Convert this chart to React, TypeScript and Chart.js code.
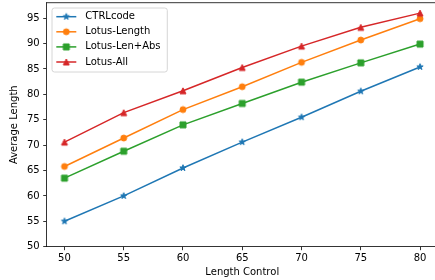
import React, { useEffect, useRef } from "react";
import { Chart, registerables } from "chart.js";

Chart.register(...registerables);

const X_VALUES = [50, 55, 60, 65, 70, 75, 80];
const SERIES_LABELS = ["CTRLcode", "Lotus-Length", "Lotus-Len+Abs", "Lotus-All"];
const CTRLCODE = [55.0, 60.0, 65.5, 70.6, 75.5, 80.6, 85.4];
const LOTUS_LENGTH = [65.8, 71.4, 77.0, 81.5, 86.3, 90.7, 94.9];
const LOTUS_LEN_ABS = [63.5, 68.8, 74.0, 78.2, 82.4, 86.2, 89.9];
const LOTUS_ALL = [70.6, 76.4, 80.7, 85.3, 89.5, 93.2, 96.0];
const X_TICKS = [50, 55, 60, 65, 70, 75, 80];
const Y_TICKS = [50, 55, 60, 65, 70, 75, 80, 85, 90, 95];
const X_TITLE = "Length Control";
const Y_TITLE = "Average Length";
const COLORS = ["#1f77b4", "#ff7f0e", "#2ca02c", "#d62728"];
const MARKERS = ["star", "circle", "square", "triangle"];

const FONT = "'DejaVu Sans', sans-serif";

function makeMarker(shape: string, color: string): HTMLCanvasElement {
  const s = 12;
  const c = document.createElement("canvas");
  c.width = s;
  c.height = s;
  const ctx = c.getContext("2d")!;
  const cx = s / 2;
  const cy = s / 2;
  const r = 3;
  ctx.beginPath();
  if (shape === "circle") {
    ctx.arc(cx, cy, r, 0, Math.PI * 2);
  } else if (shape === "square") {
    ctx.rect(cx - r, cy - r, 2 * r, 2 * r);
  } else if (shape === "triangle") {
    ctx.moveTo(cx, cy - r);
    ctx.lineTo(cx - r, cy + r);
    ctx.lineTo(cx + r, cy + r);
    ctx.closePath();
  } else {
    const outer = 3.3;
    const inner = outer * 0.381966;
    for (let i = 0; i < 10; i++) {
      const a = -Math.PI / 2 + (i * Math.PI) / 5;
      const rr = i % 2 === 0 ? outer : inner;
      const px = cx + Math.cos(a) * rr;
      const py = cy + Math.sin(a) * rr;
      if (i === 0) ctx.moveTo(px, py);
      else ctx.lineTo(px, py);
    }
    ctx.closePath();
  }
  ctx.fillStyle = color;
  ctx.fill();
  ctx.lineWidth = 1;
  ctx.lineJoin = "miter";
  ctx.strokeStyle = color;
  ctx.stroke();
  return c;
}

export default function App() {
  const canvasRef = useRef<HTMLCanvasElement | null>(null);

  useEffect(() => {
    document.body.style.margin = "0";
    const canvas = canvasRef.current;
    if (!canvas) return;

    const seriesValues = [CTRLCODE, LOTUS_LENGTH, LOTUS_LEN_ABS, LOTUS_ALL];
    const markerImgs = MARKERS.map((m, i) => makeMarker(m, COLORS[i]));

    const datasets = SERIES_LABELS.map((label, i) => ({
      label,
      data: X_VALUES.map((x, j) => ({ x, y: seriesValues[i][j] })),
      borderColor: COLORS[i],
      backgroundColor: COLORS[i],
      borderWidth: 1.5,
      tension: 0,
      pointStyle: markerImgs[i] as any,
      pointRadius: 4,
      order: SERIES_LABELS.length - i,
      clip: false as any,
    }));

    const framePlugin = {
      id: "frame",
      afterDraw(chart: any) {
        const { ctx, chartArea } = chart;
        ctx.save();
        ctx.strokeStyle = "#000";
        ctx.lineWidth = 0.8;
        ctx.beginPath();
        ctx.moveTo(chartArea.left, chartArea.top);
        ctx.lineTo(chartArea.right, chartArea.top);
        ctx.lineTo(chartArea.right, chartArea.bottom);
        ctx.stroke();
        ctx.restore();

        // legend
        const bx = 52;
        const by = 8;
        const bw = 115.3;
        const bh = 64;
        const rad = 2.5;
        ctx.save();
        ctx.beginPath();
        ctx.moveTo(bx + rad, by);
        ctx.lineTo(bx + bw - rad, by);
        ctx.arcTo(bx + bw, by, bx + bw, by + rad, rad);
        ctx.lineTo(bx + bw, by + bh - rad);
        ctx.arcTo(bx + bw, by + bh, bx + bw - rad, by + bh, rad);
        ctx.lineTo(bx + rad, by + bh);
        ctx.arcTo(bx, by + bh, bx, by + bh - rad, rad);
        ctx.lineTo(bx, by + rad);
        ctx.arcTo(bx, by, bx + rad, by, rad);
        ctx.closePath();
        ctx.fillStyle = "rgba(255,255,255,0.8)";
        ctx.fill();
        ctx.strokeStyle = "#cccccc";
        ctx.lineWidth = 0.8;
        ctx.stroke();

        const ds = chart.data.datasets;
        ds.forEach((d: any, i: number) => {
          const y = 16.7 + i * 15.1;
          ctx.beginPath();
          ctx.strokeStyle = COLORS[i];
          ctx.lineWidth = 1.5;
          ctx.moveTo(56.3, y);
          ctx.lineTo(76.3, y);
          ctx.stroke();
          const img = markerImgs[i];
          ctx.drawImage(img, 66.3 - img.width / 2, y - img.height / 2);
          ctx.fillStyle = "#000";
          ctx.font = `10px ${FONT}`;
          ctx.textAlign = "left";
          ctx.textBaseline = "middle";
          ctx.fillText(d.label, 85.3, y);
        });
        ctx.restore();
      },
    };

    const chart = new Chart(canvas, {
      type: "line",
      data: { datasets: datasets as any },
      options: {
        animation: false,
        responsive: false,
        devicePixelRatio: 1,
        layout: { autoPadding: false, padding: { top: 2.7, right: 2.2, left: 0, bottom: 0 } },
        plugins: {
          legend: { display: false },
          tooltip: { enabled: false },
        },
        scales: {
          x: {
            type: "linear",
            min: 48.5,
            max: 81.5,
            afterBuildTicks: (scale: any) => {
              scale.ticks = X_TICKS.map((v) => ({ value: v }));
            },
            afterFit: (scale: any) => {
              scale.height = 33.3;
              scale.paddingLeft = 0;
              scale.paddingRight = 0;
              scale.paddingTop = 0;
              scale.paddingBottom = 0;
            },
            grid: {
              display: true,
              drawOnChartArea: false,
              drawTicks: true,
              tickLength: 3.5,
              tickWidth: 0.8,
              tickColor: "#000",
            },
            border: { display: true, color: "#000", width: 0.8 },
            ticks: {
              color: "#000",
              font: { family: FONT, size: 10 },
              padding: 2,
              maxRotation: 0,
              autoSkip: false,
            },
            title: {
              display: true,
              text: X_TITLE,
              color: "#000",
              font: { family: FONT, size: 10 },
              padding: { top: 0, bottom: 2 },
            },
          },
          y: {
            type: "linear",
            min: 50,
            max: 98.05,
            afterBuildTicks: (scale: any) => {
              scale.ticks = Y_TICKS.map((v) => ({ value: v }));
            },
            afterFit: (scale: any) => {
              scale.width = 46.7;
              scale.paddingLeft = 0;
              scale.paddingRight = 0;
              scale.paddingTop = 0;
              scale.paddingBottom = 0;
            },
            grid: {
              display: true,
              drawOnChartArea: false,
              drawTicks: true,
              tickLength: 3.5,
              tickWidth: 0.8,
              tickColor: "#000",
            },
            border: { display: true, color: "#000", width: 0.8 },
            ticks: {
              color: "#000",
              font: { family: FONT, size: 10 },
              padding: 3.5,
              autoSkip: false,
            },
            title: {
              display: true,
              text: Y_TITLE,
              color: "#000",
              font: { family: FONT, size: 10 },
              padding: { top: 8, bottom: 0 },
            },
          },
        },
      },
      plugins: [framePlugin],
    });

    return () => {
      chart.destroy();
    };
  }, []);

  return (
    <div style={{ width: 435, height: 280, overflow: "hidden", position: "relative" }}>
      <canvas ref={canvasRef} width={440} height={280} style={{ display: "block", width: 440, height: 280 }} />
    </div>
  );
}
